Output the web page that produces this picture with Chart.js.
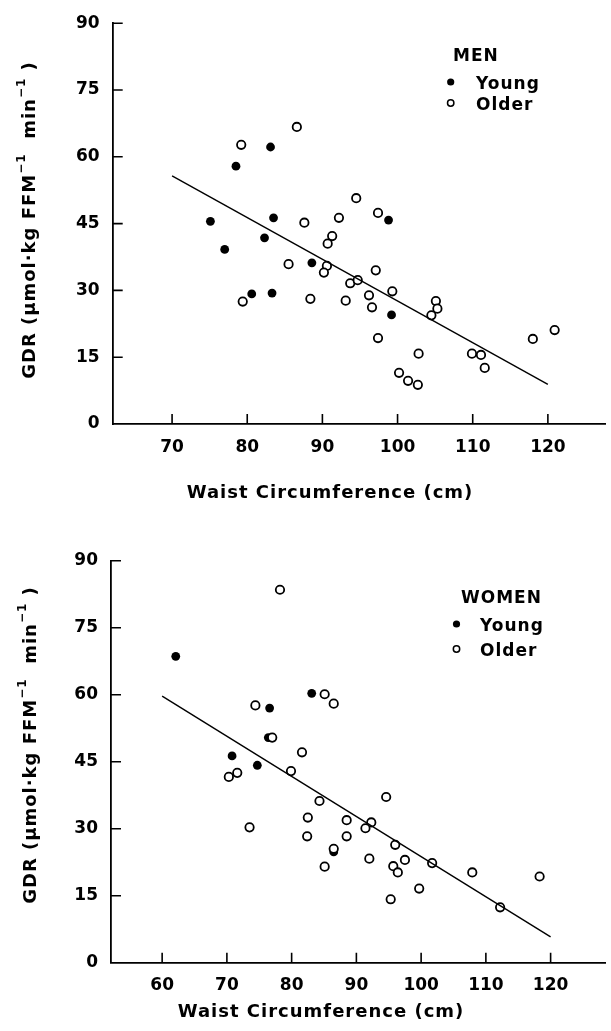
<!DOCTYPE html>
<html>
<head>
<meta charset="utf-8">
<script src="https://cdn.jsdelivr.net/npm/chart.js@4/dist/chart.umd.min.js"></script>
<style>
  body { margin: 0; background: #fff; }
  canvas { position: absolute; left: 0; }
  #men { top: 0; }
  #women { top: 515px; }
</style>
</head>
<body>
<canvas id="men" width="611" height="515"></canvas>
<canvas id="women" width="611" height="516"></canvas>
<script>
// ---- data ----
var gdrTicks = [0, 15, 30, 45, 60, 75, 90];

// MEN
var menWaistTicks = [70, 80, 90, 100, 110, 120];
var menYoungX = [75.1, 78.5, 83.1, 83.5, 82.3, 98.8, 77.0, 88.6, 80.6, 83.3, 99.2];
var menYoungY = [45.5, 57.9, 62.2, 46.3, 41.8, 45.8, 39.2, 36.2, 29.2, 29.4, 24.5];
var menOlderX = [79.2, 86.6, 87.6, 92.2, 94.5, 97.4, 91.3, 90.7, 85.5, 90.6, 90.2, 97.1, 93.7, 94.7, 99.3, 96.2, 96.6,
                 79.4, 88.4, 93.1, 105.1, 105.3, 104.5, 97.4, 102.8, 100.2, 101.4, 102.7, 109.9, 111.1, 111.6, 118.0, 120.9];
var menOlderY = [62.7, 66.7, 45.2, 46.3, 50.7, 47.4, 42.2, 40.5, 35.9, 35.5, 34.0, 34.5, 31.6, 32.3, 29.8, 28.9, 26.2,
                 27.5, 28.1, 27.7, 27.6, 25.9, 24.4, 19.3, 15.8, 11.5, 9.7, 8.8, 15.8, 15.5, 12.6, 19.1, 21.1];
var menFitX = [70, 120];
var menFitY = [55.7, 8.9];

// WOMEN
var womenWaistTicks = [60, 70, 80, 90, 100, 110, 120];
var womenYoungX = [62.1, 76.6, 83.1, 70.8, 74.7, 76.4, 86.5];
var womenYoungY = [68.6, 57.0, 60.3, 46.3, 44.2, 50.4, 24.8];
var womenOlderX = [78.2, 74.4, 85.1, 86.5, 77.0, 81.6, 79.9, 71.6, 70.3, 84.3, 94.6, 82.5, 88.5, 92.3, 91.4, 73.5,
                   82.4, 88.5, 86.5, 96.0, 92.0, 97.5, 101.7, 85.1, 95.7, 96.4, 107.9, 118.3, 99.7, 95.3, 112.2];
var womenOlderY = [83.5, 57.6, 60.1, 58.0, 50.4, 47.1, 42.9, 42.5, 41.6, 36.2, 37.1, 32.5, 31.9, 31.4, 30.1, 30.3,
                   28.3, 28.3, 25.5, 26.4, 23.3, 23.0, 22.3, 21.5, 21.6, 20.2, 20.2, 19.3, 16.6, 14.2, 12.4];
var womenFitX = [60, 120];
var womenFitY = [59.7, 5.8];

var FONT = '"DejaVu Sans", sans-serif';

function pts(xs, ys) {
  var out = [];
  for (var i = 0; i < xs.length; i++) out.push({x: xs[i], y: ys[i]});
  return out;
}

// inward ticks, axis titles and the little legend
var decor = {
  id: 'decor',
  afterDraw: function(chart, args, o) {
    var ctx = chart.ctx, a = chart.chartArea;
    var xs = chart.scales.x, ys = chart.scales.y;
    ctx.save();
    ctx.strokeStyle = '#000';
    ctx.fillStyle = '#000';
    ctx.lineWidth = 1.6;
    ctx.beginPath();
    o.xTicks.forEach(function(v) {
      var px = xs.getPixelForValue(v);
      ctx.moveTo(px, a.bottom); ctx.lineTo(px, a.bottom - 10);
    });
    gdrTicks.forEach(function(v) {
      if (v === 0) return;
      var py = ys.getPixelForValue(v);
      ctx.moveTo(a.left, py); ctx.lineTo(a.left + 10, py);
    });
    ctx.stroke();

    if ('letterSpacing' in ctx) ctx.letterSpacing = '1px';
    // x title
    ctx.font = 'bold 18px ' + FONT;
    ctx.textAlign = 'center';
    ctx.textBaseline = 'middle';
    ctx.fillText('Waist Circumference (cm)', o.xTitle[0], o.xTitle[1]);

    // y title with superscripts
    var parts = [['GDR (\u00b5mol\u00b7kg FFM', 0], ['\u22121', 1], ['  min', 0], ['\u22121', 1], [' )', 0]];
    var total = 0;
    parts.forEach(function(p) {
      ctx.font = 'bold ' + (p[1] ? 12 : 18) + 'px ' + FONT;
      p.w = ctx.measureText(p[0]).width;
      total += p.w;
    });
    ctx.translate(o.yTitle[0], o.yTitle[1]);
    ctx.rotate(-Math.PI / 2);
    ctx.textAlign = 'left';
    ctx.textBaseline = 'middle';
    var cx = -total / 2;
    parts.forEach(function(p) {
      ctx.font = 'bold ' + (p[1] ? 12 : 18) + 'px ' + FONT;
      ctx.fillText(p[0], cx, p[1] ? -8 : 0);
      cx += p.w;
    });
    ctx.setTransform(1, 0, 0, 1, 0, 0);

    // legend
    var L = o.legend;
    ctx.textAlign = 'left';
    ctx.textBaseline = 'alphabetic';
    ctx.font = 'bold 17px ' + FONT;
    ctx.fillText(L.title, L.tx, L.ty);
    ctx.beginPath();
    ctx.arc(L.bx, L.y1, 3.6, 0, Math.PI * 2);
    ctx.fill();
    ctx.fillText('Young', L.lx, L.y1 + 7);
    ctx.beginPath();
    ctx.lineWidth = 1.5;
    ctx.arc(L.bx, L.y2, 3.2, 0, Math.PI * 2);
    ctx.stroke();
    ctx.fillText('Older', L.lx, L.y2 + 7);
    ctx.restore();
  }
};

function makeChart(id, d) {
  var c = document.getElementById(id);
  return new Chart(c, {
    type: 'scatter',
    data: {
      datasets: [
        {
          type: 'line', data: pts(d.fitX, d.fitY), borderColor: '#000', borderWidth: 1.4,
          pointRadius: 0, fill: false, tension: 0
        },
        {
          label: 'Older', data: pts(d.olderX, d.olderY), pointRadius: 4.2, pointBorderWidth: 1.8,
          pointBackgroundColor: '#fff', pointBorderColor: '#000'
        },
        {
          label: 'Young', data: pts(d.youngX, d.youngY), pointRadius: 4.4, pointBorderWidth: 0,
          pointBackgroundColor: '#000', pointBorderColor: '#000'
        }
      ]
    },
    options: {
      responsive: false,
      animation: false,
      devicePixelRatio: 1,
      layout: { padding: { top: d.top, right: 1, left: 0, bottom: 0 } },
      plugins: {
        legend: { display: false },
        tooltip: { enabled: false },
        decor: d.decor
      },
      scales: {
        x: {
          type: 'linear', min: d.xMin, max: d.xMax,
          afterBuildTicks: function(s) { s.ticks = d.xTicks.map(function(v) { return {value: v}; }); },
          afterFit: function(s) { s.height = c.height - d.axisY; },
          grid: { display: false, drawTicks: false },
          border: { display: true, color: '#000', width: 1.8 },
          ticks: { color: '#000', font: { family: FONT, size: 17, weight: 'bold' }, padding: 13, maxRotation: 0, autoSkip: false }
        },
        y: {
          min: 0, max: 90,
          afterBuildTicks: function(s) { s.ticks = gdrTicks.map(function(v) { return {value: v}; }); },
          afterFit: function(s) { s.width = d.left; },
          grid: { display: false, drawTicks: false },
          border: { display: true, color: '#000', width: 1.8 },
          ticks: { color: '#000', font: { family: FONT, size: 17, weight: 'bold' }, padding: 13 }
        }
      }
    },
    plugins: [decor]
  });
}

makeChart('men', {
  youngX: menYoungX, youngY: menYoungY, olderX: menOlderX, olderY: menOlderY,
  fitX: menFitX, fitY: menFitY, xTicks: menWaistTicks,
  xMin: 62.1, xMax: 127.6, top: 20.8, left: 112.7, axisY: 424,
  decor: {
    xTicks: menWaistTicks, xTitle: [330, 493], yTitle: [30, 220],
    legend: { title: 'MEN', tx: 453, ty: 61, bx: 450.7, lx: 476, y1: 82, y2: 103 }
  }
});

makeChart('women', {
  youngX: womenYoungX, youngY: womenYoungY, olderX: womenOlderX, olderY: womenOlderY,
  fitX: womenFitX, fitY: womenFitY, xTicks: womenWaistTicks,
  xMin: 52.1, xMax: 128.4, top: 45.7, left: 111, axisY: 447.7,
  decor: {
    xTicks: womenWaistTicks, xTitle: [321, 497], yTitle: [31, 230],
    legend: { title: 'WOMEN', tx: 461, ty: 88, bx: 456.5, lx: 480, y1: 109, y2: 134 }
  }
});
</script>
</body>
</html>
